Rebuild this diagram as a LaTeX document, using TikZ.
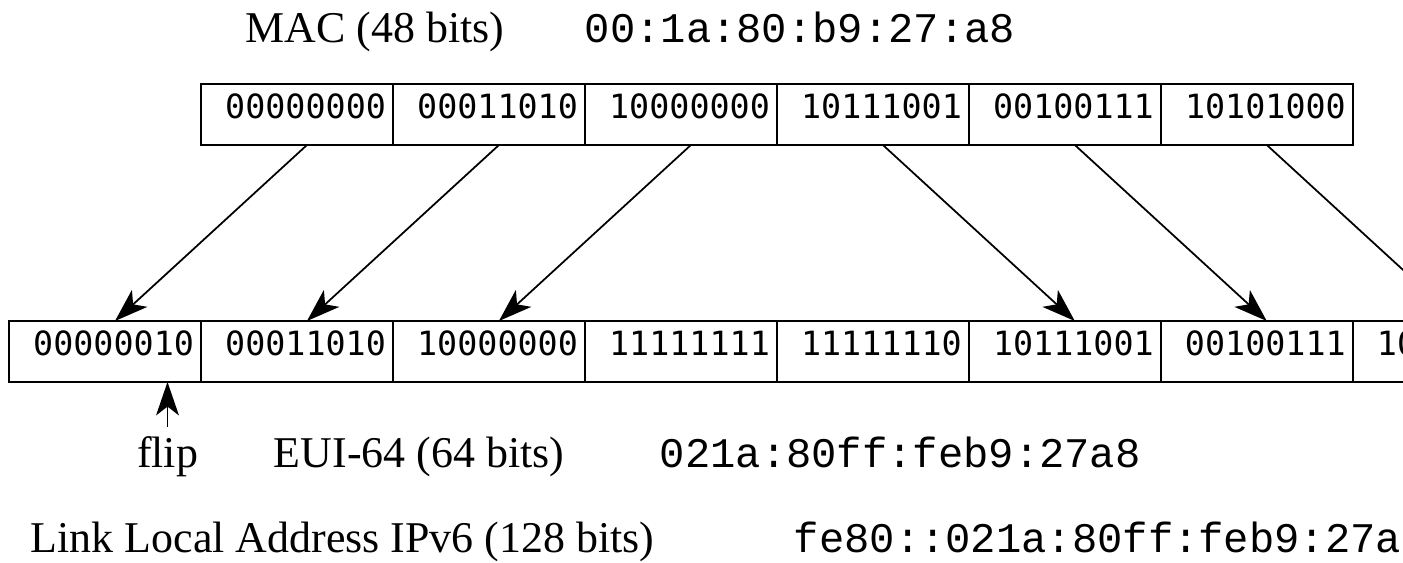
\documentclass[tikz,border=0pt]{standalone}
\usepackage{fontspec}
\setmainfont{Liberation Serif}
\newfontfamily\bytefont{DejaVu Sans Mono}
\newfontfamily\addrfont{Liberation Mono}
\usepackage{tikz}
\usetikzlibrary{positioning,arrows.meta}

\begin{document}
\begin{tikzpicture}[
		x=0.02cm, y=-0.02cm, line width=1pt,
		>={Stealth[length=19pt, width=13pt, inset=5pt]},
		byte/.style={rectangle, draw, minimum height=1.22cm, text width=3.56cm, align=right,
			inner xsep=0.14cm, inner ysep=0pt, outer sep=0pt, text height=14pt, text depth=10pt,
			font=\bytefont\fontsize{19}{22}\selectfont},
		title/.style={inner sep=0pt, anchor=base, font=\fontsize{25}{30}\selectfont},
		addr/.style={inner sep=0pt, anchor=base west, font=\addrfont\fontsize{24}{28}\selectfont}
		]
		\clip (0,0) rectangle (1403,563);
		
		% MAC
		\node (mac) at (375, 43) [title] {MAC (48 bits)};
		\node (macaddr) at (584, 43) [addr] {00:1a:80:b9:27:a8};
		
		\node (m1) at (297, 114.5) [byte] {00000000};
		\node (m2) [right=0pt of m1, byte] {00011010};
		\node (m3) [right=0pt of m2, byte] {10000000};
		\node (m4) [right=0pt of m3, byte] {10111001};
		\node (m5) [right=0pt of m4, byte] {00100111};
		\node (m6) [right=0pt of m5, byte] {10101000};
		
		% EUI-64
		\node (e1) at (105, 351.5) [byte] {00000010};
		\node (e2) [right=0pt of e1, byte] {00011010};
		\node (e3) [right=0pt of e2, byte] {10000000};
		\node (e4) [right=0pt of e3, byte] {11111111};
		\node (e5) [right=0pt of e4, byte] {11111110};
		\node (e6) [right=0pt of e5, byte] {10111001};
		\node (e7) [right=0pt of e6, byte] {00100111};
		\node (e8) [right=0pt of e7, byte] {10101000};
		
		\node (flip) at (167.5, 468) [title] {flip};
		\node (eui) at (419, 468) [title] {EUI-64 (64 bits)};
		\node (euiaddr) at (659, 468) [addr] {021a:80ff:feb9:27a8};
		
		% IPv6
		\node (ll) at (342.5, 553) [title] {Link Local Address IPv6 (128 bits)};
		\node (lladdr) at (793, 553) [addr] {fe80::021a:80ff:feb9:27a8};
		
		\draw [->] ([xshift=0.2cm]m1.south) -- ([xshift=0.2cm]e1.north);
		\draw [->] ([xshift=0.2cm]m2.south) -- ([xshift=0.2cm]e2.north);
		\draw [->] ([xshift=0.2cm]m3.south) -- ([xshift=0.2cm]e3.north);
		\draw [->] ([xshift=0.2cm]m4.south) -- ([xshift=0.2cm]e6.north);
		\draw [->] ([xshift=0.2cm]m5.south) -- ([xshift=0.2cm]e7.north);
		\draw [->] ([xshift=0.2cm]m6.south) -- ([xshift=0.2cm]e8.north);
		\draw [->] ([yshift=0.18cm]flip.north) -- (flip.north |- e1.south);
	\end{tikzpicture}
\end{document}
